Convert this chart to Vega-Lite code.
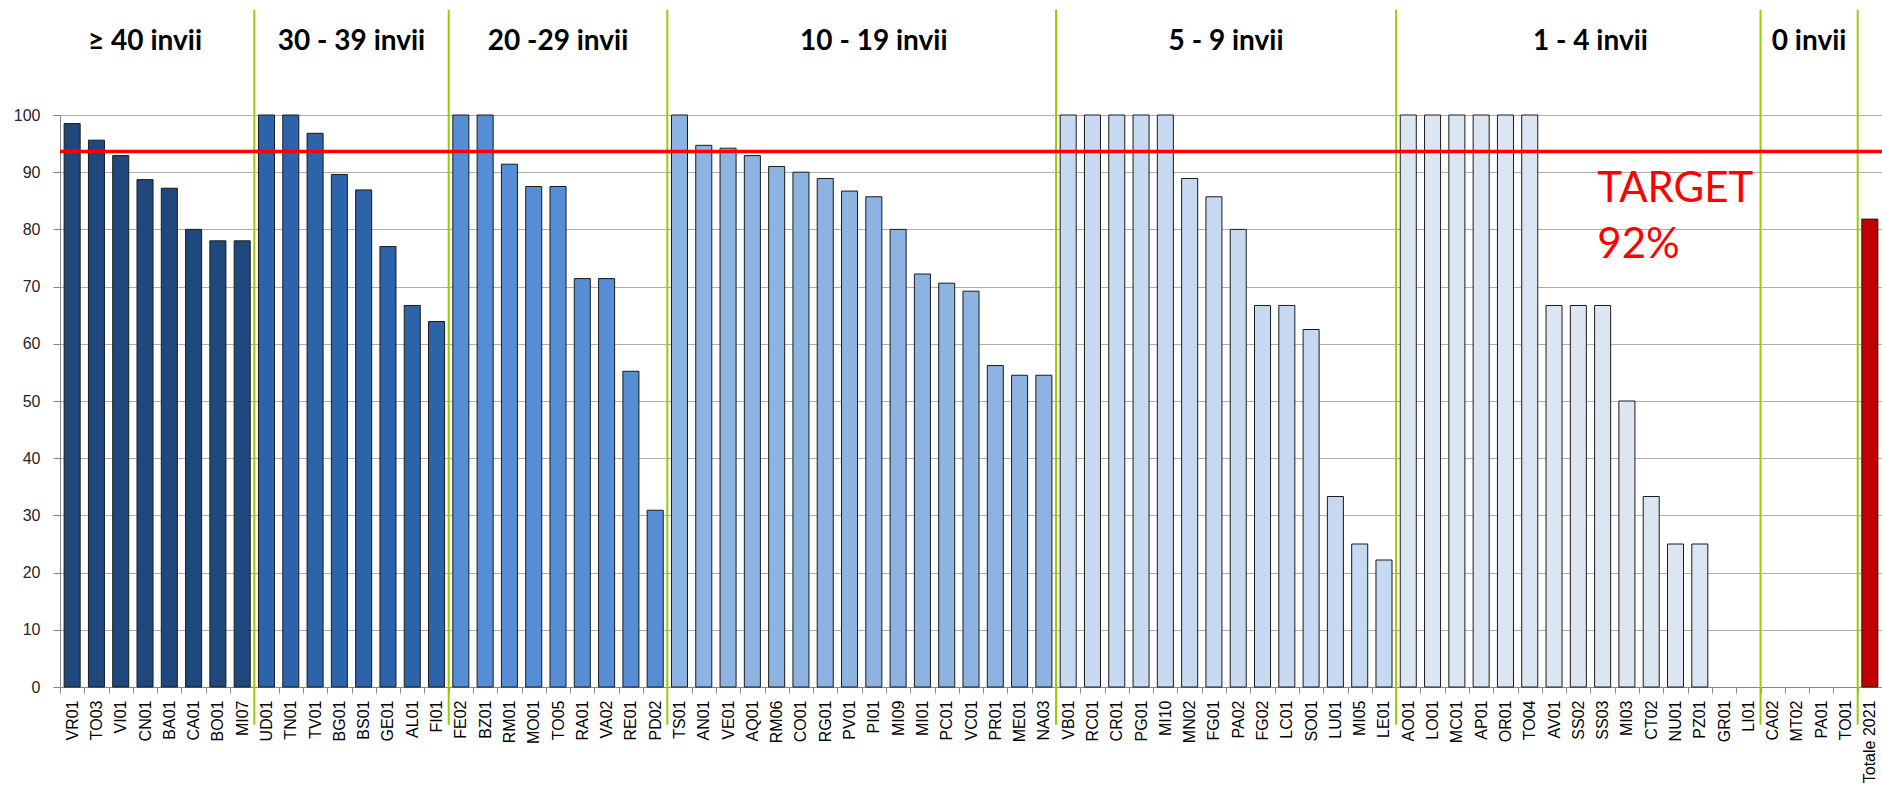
{
  "$schema": "https://vega.github.io/schema/vega-lite/v6.json",
  "width": 1822,
  "height": 572,
  "autosize": {"type": "none"},
  "padding": {"left": 60, "top": 115, "right": 0, "bottom": 100},
  "background": "white",
  "config": {"view": {"stroke": null}},
  "datasets": {
    "bars": [
      {"c": "VR01", "v": 98.5, "g": "g1"},
      {"c": "TO03", "v": 95.6, "g": "g1"},
      {"c": "VI01", "v": 92.9, "g": "g1"},
      {"c": "CN01", "v": 88.7, "g": "g1"},
      {"c": "BA01", "v": 87.2, "g": "g1"},
      {"c": "CA01", "v": 80.0, "g": "g1"},
      {"c": "BO01", "v": 78.0, "g": "g1"},
      {"c": "MI07", "v": 78.0, "g": "g1"},
      {"c": "UD01", "v": 100, "g": "g2"},
      {"c": "TN01", "v": 100, "g": "g2"},
      {"c": "TV01", "v": 96.8, "g": "g2"},
      {"c": "BG01", "v": 89.6, "g": "g2"},
      {"c": "BS01", "v": 86.9, "g": "g2"},
      {"c": "GE01", "v": 77.0, "g": "g2"},
      {"c": "AL01", "v": 66.7, "g": "g2"},
      {"c": "FI01", "v": 63.9, "g": "g2"},
      {"c": "FE02", "v": 100, "g": "g3"},
      {"c": "BZ01", "v": 100, "g": "g3"},
      {"c": "RM01", "v": 91.4, "g": "g3"},
      {"c": "MO01", "v": 87.5, "g": "g3"},
      {"c": "TO05", "v": 87.5, "g": "g3"},
      {"c": "RA01", "v": 71.4, "g": "g3"},
      {"c": "VA02", "v": 71.4, "g": "g3"},
      {"c": "RE01", "v": 55.2, "g": "g3"},
      {"c": "PD02", "v": 30.9, "g": "g3"},
      {"c": "TS01", "v": 100, "g": "g4"},
      {"c": "AN01", "v": 94.7, "g": "g4"},
      {"c": "VE01", "v": 94.2, "g": "g4"},
      {"c": "AQ01", "v": 92.9, "g": "g4"},
      {"c": "RM06", "v": 91.0, "g": "g4"},
      {"c": "CO01", "v": 90.0, "g": "g4"},
      {"c": "RG01", "v": 88.9, "g": "g4"},
      {"c": "PV01", "v": 86.7, "g": "g4"},
      {"c": "PI01", "v": 85.7, "g": "g4"},
      {"c": "MI09", "v": 80.0, "g": "g4"},
      {"c": "MI01", "v": 72.2, "g": "g4"},
      {"c": "PC01", "v": 70.6, "g": "g4"},
      {"c": "VC01", "v": 69.2, "g": "g4"},
      {"c": "PR01", "v": 56.2, "g": "g4"},
      {"c": "ME01", "v": 54.5, "g": "g4"},
      {"c": "NA03", "v": 54.5, "g": "g4"},
      {"c": "VB01", "v": 100, "g": "g5"},
      {"c": "RC01", "v": 100, "g": "g5"},
      {"c": "CR01", "v": 100, "g": "g5"},
      {"c": "PG01", "v": 100, "g": "g5"},
      {"c": "MI10", "v": 100, "g": "g5"},
      {"c": "MN02", "v": 88.9, "g": "g5"},
      {"c": "FG01", "v": 85.7, "g": "g5"},
      {"c": "PA02", "v": 80.0, "g": "g5"},
      {"c": "FG02", "v": 66.7, "g": "g5"},
      {"c": "LC01", "v": 66.7, "g": "g5"},
      {"c": "SO01", "v": 62.5, "g": "g5"},
      {"c": "LU01", "v": 33.3, "g": "g5"},
      {"c": "MI05", "v": 25.0, "g": "g5"},
      {"c": "LE01", "v": 22.2, "g": "g5"},
      {"c": "AO01", "v": 100, "g": "g6"},
      {"c": "LO01", "v": 100, "g": "g6"},
      {"c": "MC01", "v": 100, "g": "g6"},
      {"c": "AP01", "v": 100, "g": "g6"},
      {"c": "OR01", "v": 100, "g": "g6"},
      {"c": "TO04", "v": 100, "g": "g6"},
      {"c": "AV01", "v": 66.7, "g": "g6"},
      {"c": "SS02", "v": 66.7, "g": "g6"},
      {"c": "SS03", "v": 66.7, "g": "g6"},
      {"c": "MI03", "v": 50.0, "g": "g6"},
      {"c": "CT02", "v": 33.3, "g": "g6"},
      {"c": "NU01", "v": 25.0, "g": "g6"},
      {"c": "PZ01", "v": 25.0, "g": "g6"},
      {"c": "GR01", "v": 0, "g": "g6"},
      {"c": "LI01", "v": 0, "g": "g6"},
      {"c": "CA02", "v": 0, "g": "g7"},
      {"c": "MT02", "v": 0, "g": "g7"},
      {"c": "PA01", "v": 0, "g": "g7"},
      {"c": "TO01", "v": 0, "g": "g7"},
      {"c": "Totale 2021", "v": 81.8, "g": "tot"}
    ]
  },
  "layer": [
    {
      "data": {"name": "bars"},
      "mark": {"type": "bar", "width": {"band": 0.66}, "stroke": "#1a1a1a", "strokeWidth": 1},
      "encoding": {
        "x": {
          "field": "c", "type": "nominal", "sort": null,
          "scale": {
            "domain": ["VR01","TO03","VI01","CN01","BA01","CA01","BO01","MI07","UD01","TN01","TV01","BG01","BS01","GE01","AL01","FI01","FE02","BZ01","RM01","MO01","TO05","RA01","VA02","RE01","PD02","TS01","AN01","VE01","AQ01","RM06","CO01","RG01","PV01","PI01","MI09","MI01","PC01","VC01","PR01","ME01","NA03","VB01","RC01","CR01","PG01","MI10","MN02","FG01","PA02","FG02","LC01","SO01","LU01","MI05","LE01","AO01","LO01","MC01","AP01","OR01","TO04","AV01","SS02","SS03","MI03","CT02","NU01","PZ01","GR01","LI01","CA02","MT02","PA01","TO01","Totale 2021"],
            "paddingInner": 0, "paddingOuter": 0
          },
          "axis": {
            "title": null, "tickBand": "extent", "labelAngle": -90,
            "labelFont": "Liberation Sans", "labelFontSize": 16, "labelColor": "#000000",
            "tickSize": 6, "labelPadding": 7, "domainColor": "#868686", "tickColor": "#868686",
            "grid": false, "labelOverlap": false
          }
        },
        "y": {
          "field": "v", "type": "quantitative",
          "scale": {"domain": [0, 100], "nice": false},
          "axis": {
            "title": null, "values": [0,10,20,30,40,50,60,70,80,90,100],
            "grid": true, "gridColor": "#ADADAD", "gridWidth": 1,
            "domainColor": "#868686", "tickColor": "#868686", "tickSize": 7,
            "labelFont": "Liberation Sans", "labelFontSize": 16, "labelColor": "#262626", "labelPadding": 13
          }
        },
        "color": {
          "field": "g", "type": "nominal",
          "scale": {"domain": ["g1","g2","g3","g4","g5","g6","g7","tot"], "range": ["#1F497D","#2C64AB","#558ED5","#8DB3E2","#C6D9F1","#DCE6F2","#FFFFFF","#C00000"]},
          "legend": null
        },
        "strokeOpacity": {"condition": {"test": "datum.v <= 0", "value": 0}, "value": 1}
      }
    },
    {
      "data": {"values": [{"c": "UD01"}, {"c": "FE02"}, {"c": "TS01"}, {"c": "VB01"}, {"c": "AO01"}, {"c": "CA02"}, {"c": "Totale 2021"}]},
      "mark": {"type": "rule", "color": "#99CC00", "strokeWidth": 2},
      "encoding": {
        "x": {"field": "c", "type": "nominal", "bandPosition": 0},
        "y": {"datum": 118.4},
        "y2": {"datum": -6.6}
      }
    },
    {
      "data": {"values": [{"target": 93.6}]},
      "mark": {"type": "rule", "color": "#FF0000", "strokeWidth": 3.5},
      "encoding": {
        "y": {"field": "target", "type": "quantitative"}
      }
    },
    {
      "data": {"values": [
        {"t": "30 - 39 invii", "c": "BS01"},
        {"t": "5 - 9  invii", "c": "PA02"},
        {"t": "1 - 4  invii", "c": "SS03"},
        {"t": "0 invii", "c": "PA01"}
      ]},
      "mark": {"type": "text", "font": "Lato", "fontWeight": "bold", "fontSize": 28, "color": "#000000", "align": "center", "baseline": "alphabetic"},
      "encoding": {
        "x": {"field": "c", "type": "nominal", "bandPosition": 0},
        "y": {"datum": 111.4},
        "text": {"field": "t"}
      }
    },
    {
      "data": {"values": [
        {"t": "≥ 40 invii", "c": "CN01"},
        {"t": "20 -29 invii", "c": "TO05"},
        {"t": "10 - 19  invii", "c": "PI01"}
      ]},
      "mark": {"type": "text", "font": "Lato", "fontWeight": "bold", "fontSize": 28, "color": "#000000", "align": "center", "baseline": "alphabetic"},
      "encoding": {
        "x": {"field": "c", "type": "nominal", "bandPosition": 0.5},
        "y": {"datum": 111.4},
        "text": {"field": "t"}
      }
    },
    {
      "data": {"values": [{"c": "SS03", "label": "TARGET|92%"}]},
      "mark": {"type": "text", "font": "Lato", "fontSize": 42, "color": "#FF0000", "align": "left", "baseline": "alphabetic", "lineBreak": "|", "lineHeight": 56},
      "encoding": {
        "x": {"field": "c", "type": "nominal", "bandPosition": 0.28},
        "y": {"datum": 84.8},
        "text": {"field": "label"}
      }
    }
  ]
}
